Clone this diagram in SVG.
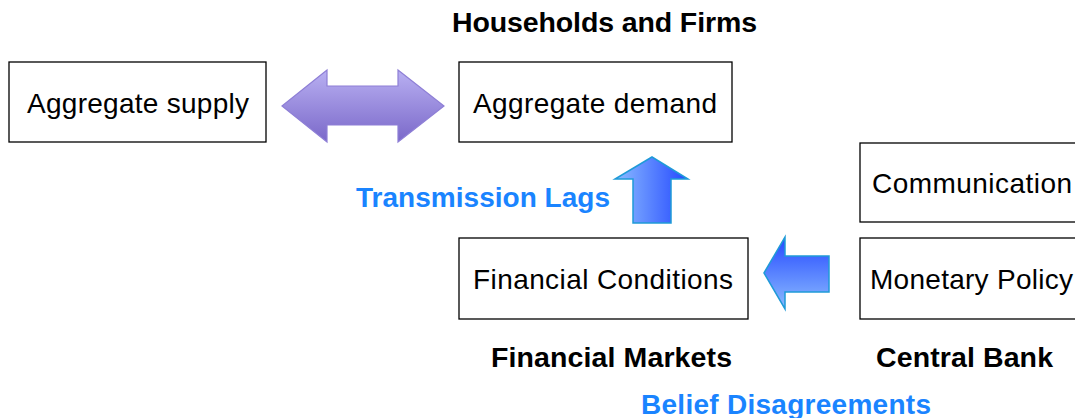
<svg xmlns="http://www.w3.org/2000/svg" width="1075" height="418" viewBox="0 0 1075 418">
  <defs>
    <linearGradient id="gradPurple" x1="0" y1="0" x2="0" y2="1">
      <stop offset="0" stop-color="#b9b0f2"/>
      <stop offset="1" stop-color="#7a68c9"/>
    </linearGradient>
    <linearGradient id="gradUp" x1="0" y1="0" x2="1" y2="0">
      <stop offset="0" stop-color="#8cbcff"/>
      <stop offset="1" stop-color="#2448ff"/>
    </linearGradient>
    <linearGradient id="gradLeft" x1="0" y1="0" x2="0" y2="1">
      <stop offset="0" stop-color="#2448ff"/>
      <stop offset="1" stop-color="#8cbcff"/>
    </linearGradient>
  </defs>
  <style>
    .box { fill: #ffffff; stroke: #000000; stroke-width: 1.3; }
    .label { font-family: "Liberation Sans", Arial, Helvetica, sans-serif; font-size: 28px; fill: #000000; text-anchor: middle; }
    .title { font-family: "Liberation Sans", Arial, Helvetica, sans-serif; font-size: 28.5px; font-weight: bold; fill: #000000; text-anchor: middle; }
    .note { font-family: "Liberation Sans", Arial, Helvetica, sans-serif; font-size: 28px; font-weight: bold; fill: #1a84ff; text-anchor: middle; }
  </style>

  <rect width="1075" height="418" fill="#ffffff"/>

  <!-- group captions -->
  <text class="title" x="604.5" y="32" textLength="305">Households and Firms</text>
  <text class="title" x="611.5" y="367" textLength="241">Financial Markets</text>
  <text class="title" x="964.5" y="367" textLength="177">Central Bank</text>
  <text class="note" x="483" y="207" textLength="254">Transmission Lags</text>
  <text class="note" x="786" y="414" textLength="290">Belief Disagreements</text>

  <g id="aggregate-supply">
    <rect class="box" x="9" y="62" width="257" height="80"/>
    <text class="label" x="138" y="112.5" textLength="222">Aggregate supply</text>
  </g>

  <g id="aggregate-demand">
    <rect class="box" x="459" y="62" width="273" height="80"/>
    <text class="label" x="595" y="112.5" textLength="244">Aggregate demand</text>
  </g>

  <g id="communication">
    <rect class="box" x="860" y="143" width="220" height="79"/>
    <text class="label" x="972" y="192.5" textLength="200">Communication</text>
  </g>

  <g id="financial-conditions">
    <rect class="box" x="459" y="238" width="289" height="81"/>
    <text class="label" x="603" y="288.5" textLength="260">Financial Conditions</text>
  </g>

  <g id="monetary-policy">
    <rect class="box" x="860" y="238" width="220" height="81"/>
    <text class="label" x="971.5" y="288.5" textLength="203">Monetary Policy</text>
  </g>

  <g id="connectors">
    <!-- supply <-> demand -->
    <path d="M282,106 L327,70 L327,86 L398,86 L398,70 L444,106 L398,142 L398,125 L327,125 L327,142 Z"
          fill="url(#gradPurple)" stroke="#8e7fd6" stroke-width="1.2"/>
    <!-- financial conditions -> aggregate demand -->
    <path d="M652,157 L688,179 L671,179 L671,223 L633,223 L633,179 L615,179 Z"
          fill="url(#gradUp)" stroke="#1f9ad8" stroke-width="1.5"/>
    <!-- monetary policy -> financial conditions -->
    <path d="M764,273 L785,237 L785,256 L829,256 L829,292 L785,292 L785,309 Z"
          fill="url(#gradLeft)" stroke="#1f9ad8" stroke-width="1.5"/>
  </g>
</svg>
